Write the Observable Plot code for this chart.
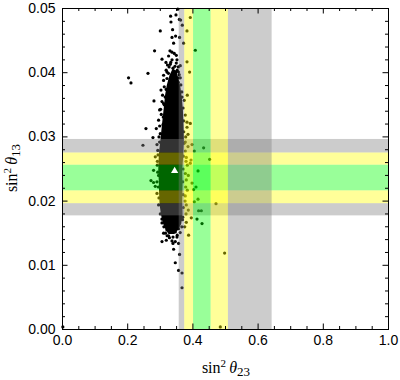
<!DOCTYPE html>
<html><head><meta charset="utf-8">
<script src="https://cdn.jsdelivr.net/npm/d3@7"></script>
<script src="https://cdn.jsdelivr.net/npm/@observablehq/plot@0.6"></script>
<style>body{margin:0;background:#fff}</style>
</head><body><div id="chart"></div>
<script>
// ---- tick values ----
const xMajor = [0, 0.2, 0.4, 0.6, 0.8, 1.0];
const xMinor = [0.05,0.1,0.15,0.25,0.3,0.35,0.45,0.5,0.55,0.65,0.7,0.75,0.85,0.9,0.95];
const yMajor = [0, 0.01, 0.02, 0.03, 0.04, 0.05];
const yMinor = [0.002,0.004,0.006,0.008,0.012,0.014,0.016,0.018,0.022,0.024,0.026,0.028,0.032,0.034,0.036,0.038,0.042,0.044,0.046,0.048];

// ---- experimental ranges (sin^2 theta23, vertical bands) ----
const vBandLevel = ["3σ","2σ","1σ","2σ","3σ"];
const vBandLo    = [0.358, 0.375, 0.402, 0.456, 0.509];
const vBandHi    = [0.375, 0.402, 0.456, 0.509, 0.643];
// ---- experimental ranges (sin^2 theta13, horizontal bands) ----
const hBandLevel = ["3σ","2σ","1σ","2σ","3σ"];
const hBandLo    = [0.0177, 0.0196, 0.0216, 0.0256, 0.0275];
const hBandHi    = [0.0196, 0.0216, 0.0256, 0.0275, 0.0296];

// ---- best fit point ----
const bestX = [0.344];
const bestY = [0.0247];

// ---- dense core of the scan (outline) ----
const coreX = [0.3390,0.3300,0.3220,0.3170,0.3140,0.3110,0.3080,0.3050,0.3020,0.2990,0.2970,0.2960,0.2975,0.2985,0.3000,0.3040,0.3100,0.3180,0.3260,
               0.3420,0.3530,0.3620,0.3660,0.3650,0.3660,0.3650,0.3680,0.3700,0.3690,0.3670,0.3640,0.3600,0.3540,0.3470];
const coreY = [0.0405,0.0395,0.0380,0.0365,0.0350,0.0336,0.0322,0.0307,0.0292,0.0279,0.0264,0.0248,0.0233,0.0214,0.0196,0.0180,0.0166,0.0157,0.0150,
               0.0150,0.0156,0.0165,0.0180,0.0200,0.0225,0.0248,0.0272,0.0295,0.0318,0.0342,0.0360,0.0375,0.0390,0.0402];

// ---- scattered scan points ----
const scatterX = [0.2026,0.2100,0.2622,0.2824,0.2999,0.3052,0.3316,0.3328,0.3481,0.3537,0.3623,0.3675,0.3920,0.3819,0.4074,0.3899,
  0.3377,0.3359,0.3469,0.3408,0.3297,0.3359,0.3429,0.3254,0.3491,0.3174,0.3306,0.3512,0.3613,0.3389,0.3481,0.3205,0.3101,0.3408,0.3561,
  0.3101,0.3306,0.3592,0.3715,0.3819,0.3583,0.3555,0.3205,0.3359,0.3460,0.3122,0.3021,0.3306,0.3552,0.3613,
  0.2806,0.3030,0.2978,0.3101,0.3070,0.2947,0.2877,0.3082,0.2560,0.2468,0.2775,0.2898,0.2999,0.2978,0.3052,
  0.2846,0.2794,0.2714,0.2794,0.2898,0.2846,0.2947,0.2898,0.2947,0.2907,0.2923,
  0.3052,0.3153,0.3254,0.3408,0.3561,0.3460,0.3306,0.3254,0.3512,0.3184,0.3052,0.3359,0.3460,0.3389,0.3561,0.3408,0.3592,0.3460,0.3561,
  0.3666,0.3666,0.3868,0.3205,0.3101,0.3205,
  0.3819,0.3819,0.3850,0.3767,0.3767,0.3798,0.3828,0.3859,0.3798,0.3828,0.3767,0.3798,0.3859,0.3798,
  0.4329,0.4513,0.4157,0.4095,0.4157,0.4709,0.4175,0.4258,0.4126,0.4280,0.3951,0.4973,0.4841,
  0.4043,0.3973,0.3920,0.3973,0.4022,0.4043,0.3736,0.3767,0.3828,0.3666,0.3920,0.3850,0.3942,0.0010,
  0.296,0.293,0.291,0.292,0.294,0.296,0.300,0.305,0.309,0.312,0.315,0.318,
  0.372,0.373,0.371,0.370,0.369,0.370,0.371,0.369,0.366,0.372,0.370,0.366,0.378,0.379,0.377,0.378,0.376,0.379,0.375,
  0.318,0.322,0.327,0.332,0.345,0.352,0.358,0.363,0.325,0.336,0.349,0.357,0.301,0.298,0.303,0.307,0.311,0.316,0.321,0.328,0.339,0.352,0.361,0.368];
const scatterY = [0.0392,0.0384,0.0399,0.0434,0.0465,0.0421,0.0488,0.0479,0.0490,0.0499,0.0482,0.0474,0.0486,0.0465,0.0435,0.0401,
  0.0467,0.0455,0.0457,0.0446,0.0434,0.0432,0.0430,0.0426,0.0427,0.0416,0.0413,0.0420,0.0411,0.0407,0.0401,0.0401,0.0396,0.0396,0.0401,
  0.0388,0.0388,0.0455,0.0446,0.0417,0.0483,0.0409,0.0391,0.0394,0.0386,0.0378,0.0373,0.0381,0.0385,0.0392,
  0.0356,0.0335,0.0342,0.0352,0.0365,0.0326,0.0313,0.0319,0.0313,0.0287,0.0299,0.0288,0.0305,0.0292,0.0355,
  0.0269,0.0248,0.0232,0.0229,0.0230,0.0223,0.0240,0.0212,0.0194,0.0256,0.0279,
  0.0166,0.0168,0.0160,0.0161,0.0157,0.0152,0.0152,0.0146,0.0144,0.0139,0.0137,0.0138,0.0137,0.0134,0.0134,0.0125,0.0117,0.0104,0.0092,
  0.0088,0.0065,0.0147,0.0155,0.0150,0.0157,
  0.0323,0.0315,0.0304,0.0292,0.0278,0.0268,0.0256,0.0240,0.0233,0.0217,0.0208,0.0194,0.0186,0.0167,
  0.0283,0.0265,0.0247,0.0222,0.0203,0.0196,0.0185,0.0185,0.0172,0.0165,0.0174,0.0119,0.0004,
  0.0278,0.0288,0.0259,0.0228,0.0218,0.0199,0.0357,0.0334,0.0365,0.0362,0.0321,0.0285,0.0264,0.0004,
  0.0300,0.0272,0.0262,0.0245,0.0222,0.0205,0.0180,0.0172,0.0331,0.0350,0.0362,0.0374,
  0.0308,0.0290,0.0270,0.0250,0.0230,0.0210,0.0190,0.0175,0.0160,0.0325,0.0345,0.0370,0.0300,0.0262,0.0243,0.0222,0.0200,0.0180,0.0160,
  0.0404,0.0412,0.0409,0.0416,0.0410,0.0404,0.0397,0.0381,0.0399,0.0420,0.0415,0.0392,0.0343,0.0317,0.0239,0.0186,0.0160,0.0150,0.0146,0.0143,0.0144,0.0147,0.0151,0.0171];

const vBands = vBandLevel.map((l,i)=>({level:l, lo:vBandLo[i], hi:vBandHi[i]}));
const hBands = hBandLevel.map((l,i)=>({level:l, lo:hBandLo[i], hi:hBandHi[i]}));

const W = 400, H = 380, mL = 62, mR = 12, mT = 8, mB = 51;
const innerW = W - mL - mR, innerH = H - mT - mB;
const majorLen = 5.5, minorLen = 3;

const chart = Plot.plot({
  width: W, height: H,
  marginLeft: mL, marginRight: mR, marginTop: mT, marginBottom: mB,
  style: {fontFamily: "'Liberation Sans', Arial, sans-serif", color: "#000", background: "#fff"},
  x: {domain: [0, 1], axis: null},
  y: {domain: [0, 0.05], axis: null},
  color: {domain: ["1σ","2σ","3σ"], range: ["rgb(0,255,0)", "rgb(255,255,0)", "rgb(128,128,128)"]},
  marks: [
    Plot.line(coreX, {x: coreX, y: coreY, fill: "black", stroke: "black", strokeWidth: 1.5, curve: "linear-closed"}),
    Plot.dot(scatterX, {x: scatterX, y: scatterY, r: 1.6, fill: "black"}),
    Plot.rect(hBands, {y1: "lo", y2: "hi", fill: "level", fillOpacity: 0.4}),
    Plot.rect(vBands, {x1: "lo", x2: "hi", fill: "level", fillOpacity: 0.4}),
    Plot.dot(bestX, {x: bestX, y: bestY, symbol: "triangle", r: 2.7, fill: "white"}),
    // inward ticks
    Plot.tickX(xMajor, {x: d => d, insetTop: innerH - majorLen, stroke: "black"}),
    Plot.tickX(xMinor, {x: d => d, insetTop: innerH - minorLen, stroke: "black"}),
    Plot.tickX(xMajor, {x: d => d, insetBottom: innerH - majorLen, stroke: "black"}),
    Plot.tickX(xMinor, {x: d => d, insetBottom: innerH - minorLen, stroke: "black"}),
    Plot.tickY(yMajor, {y: d => d, insetRight: innerW - majorLen, stroke: "black"}),
    Plot.tickY(yMinor, {y: d => d, insetRight: innerW - minorLen, stroke: "black"}),
    Plot.tickY(yMajor, {y: d => d, insetLeft: innerW - majorLen, stroke: "black"}),
    Plot.tickY(yMinor, {y: d => d, insetLeft: innerW - minorLen, stroke: "black"}),
    Plot.frame({stroke: "black"}),
    Plot.axisX(xMajor, {anchor: "bottom", tickSize: 0, tickPadding: 6, tickFormat: d => d.toFixed(1), fontSize: 14, label: null}),
    Plot.axisY(yMajor, {anchor: "left", tickSize: 0, tickPadding: 7, tickFormat: d => d.toFixed(2), fontSize: 14, label: null})
  ]
});
document.getElementById("chart").appendChild(chart);

// axis titles with super/subscripts
const svg = d3.select(chart);
function addLabel(x, y, rotate, sub) {
  const t = svg.append("text")
    .attr("transform", `translate(${x},${y})` + (rotate ? " rotate(-90)" : ""))
    .attr("text-anchor", "middle")
    .attr("fill", "#000")
    .style("font-family", "'Liberation Serif', 'Times New Roman', serif")
    .style("font-size", "16px");
  t.append("tspan").text("sin");
  t.append("tspan").attr("dy", -6).style("font-size", "11px").text("2");
  t.append("tspan").attr("dy", 6).text("\u2009");
  t.append("tspan").style("font-style", "italic").text("θ");
  t.append("tspan").attr("dy", 3).style("font-size", "13px").text(sub);
}
addLabel(226, 373, false, "23");
addLabel(17, 168, true, "13");
</script>
</body></html>
